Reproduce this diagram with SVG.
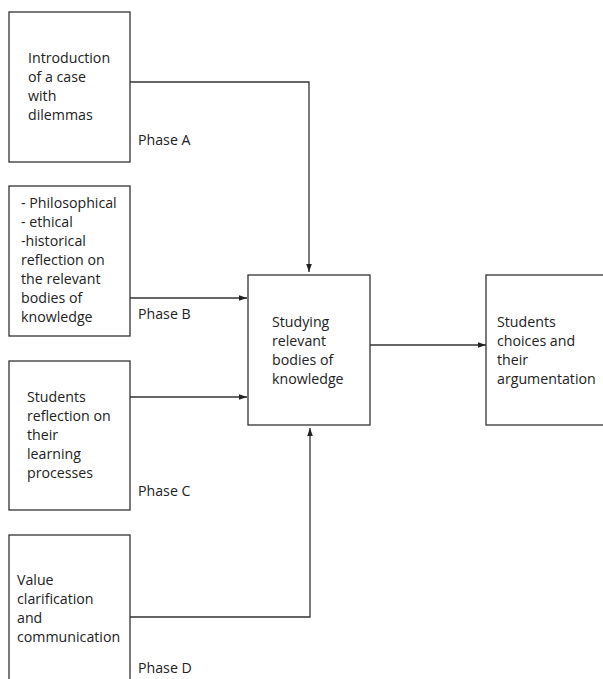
<svg xmlns="http://www.w3.org/2000/svg" width="603" height="679" viewBox="0 0 603 679">
<style>
.box{fill:#fff;stroke:#333;stroke-width:1.3}
.t{font-family:"Open Sans","Liberation Sans",sans-serif;font-size:14.2px;fill:#222}
.c{fill:none;stroke:#333;stroke-width:1.3}
</style>
<defs>
<marker id="ah" viewBox="0 0 10 10" refX="10" refY="5" markerWidth="10" markerHeight="8" markerUnits="userSpaceOnUse" orient="auto">
<path d="M0,1.5 L10,5 L0,8.5 Z" fill="#222"/>
</marker>
</defs>
<rect width="603" height="679" fill="#fff"/>
<g id="connectors">
<path class="c" d="M130,82 H309 V272" marker-end="url(#ah)"/>
<path class="c" d="M130,298 H247" marker-end="url(#ah)"/>
<path class="c" d="M130,397 H247" marker-end="url(#ah)"/>
<path class="c" d="M130,617 H310 V428" marker-end="url(#ah)"/>
<path class="c" d="M370,345 H486" marker-end="url(#ah)"/>
</g>
<g id="nodeA">
<rect class="box" x="9" y="12" width="121" height="150"/>
<text class="t" x="28" y="63">Introduction</text>
<text class="t" x="28" y="82">of a case</text>
<text class="t" x="28" y="101">with</text>
<text class="t" x="28" y="120">dilemmas</text>
<text class="t" x="138" y="145">Phase A</text>
</g>
<g id="nodeB">
<rect class="box" x="9" y="186" width="121" height="150"/>
<text class="t" x="21" y="208">- Philosophical</text>
<text class="t" x="21" y="227">- ethical</text>
<text class="t" x="21" y="246">-historical</text>
<text class="t" x="21" y="265">reflection on</text>
<text class="t" x="21" y="284">the relevant</text>
<text class="t" x="21" y="303">bodies of</text>
<text class="t" x="21" y="322">knowledge</text>
<text class="t" x="138" y="319">Phase B</text>
</g>
<g id="nodeC">
<rect class="box" x="9" y="361" width="121" height="149"/>
<text class="t" x="27" y="402">Students</text>
<text class="t" x="27" y="421">reflection on</text>
<text class="t" x="27" y="440">their</text>
<text class="t" x="27" y="459">learning</text>
<text class="t" x="27" y="478">processes</text>
<text class="t" x="138" y="496">Phase C</text>
</g>
<g id="nodeD">
<rect class="box" x="9" y="535" width="121" height="160"/>
<text class="t" x="17" y="585">Value</text>
<text class="t" x="17" y="604">clarification</text>
<text class="t" x="17" y="623">and</text>
<text class="t" x="17" y="642">communication</text>
<text class="t" x="138" y="673">Phase D</text>
</g>
<g id="nodeCenter">
<rect class="box" x="248" y="275" width="122" height="150"/>
<text class="t" x="272" y="327">Studying</text>
<text class="t" x="272" y="346">relevant</text>
<text class="t" x="272" y="365">bodies of</text>
<text class="t" x="272" y="384">knowledge</text>
</g>
<g id="nodeRight">
<rect class="box" x="486" y="275" width="130" height="150"/>
<text class="t" x="497" y="327">Students</text>
<text class="t" x="497" y="346">choices and</text>
<text class="t" x="497" y="365">their</text>
<text class="t" x="497" y="384">argumentation</text>
</g>
</svg>
